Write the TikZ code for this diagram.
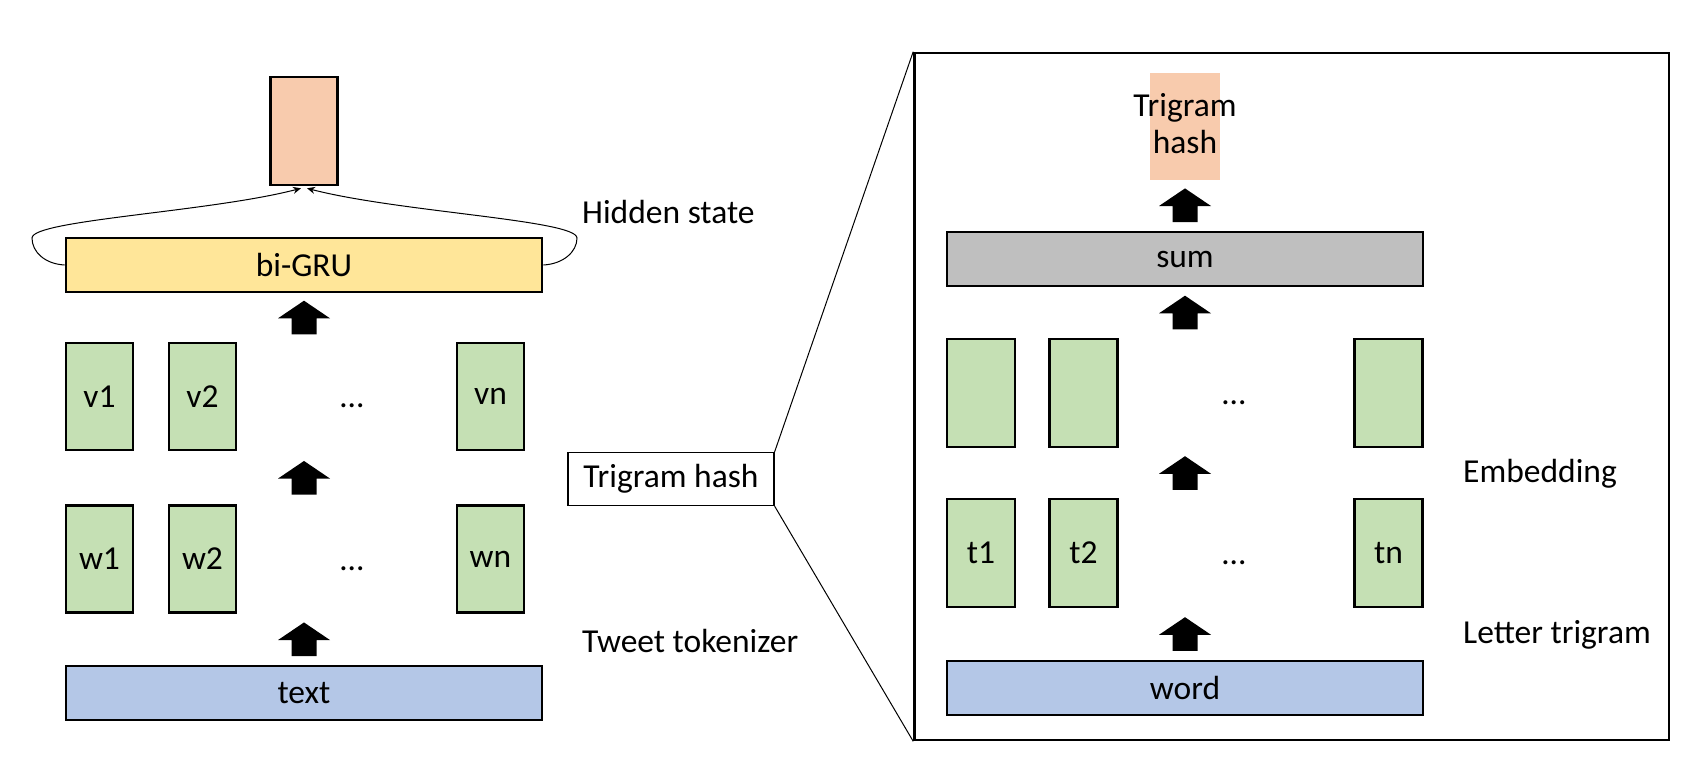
\documentclass[tikz,border=0pt]{standalone}
\usepackage{fontspec}
\setmainfont{Carlito}
\usetikzlibrary{calc,arrows.meta}
\definecolor{orng}{HTML}{F8CBAD}
\definecolor{yel}{HTML}{FFE699}
\definecolor{grn}{HTML}{C5E0B4}
\definecolor{blu}{HTML}{B4C7E7}
\definecolor{gry}{HTML}{BFBFBF}
\newcommand\blockarrow[1]{\fill[black,shift={(#1)}] (-12.5,16.8) -- (-12.5,0.8) -- (-26,0.8) -- (0,-16.8) -- (26,0.8) -- (12.5,0.8) -- (12.5,16.8) -- cycle;}
\begin{document}
\begin{tikzpicture}[x=1pt,y=-1pt,
  every node/.style={font=\fontsize{33.5}{37}\selectfont, inner sep=0pt},
  box/.style={draw=black, line width=2.6pt, minimum width=#1, minimum height=54},
  cell/.style={draw=black, line width=2.6pt, fill=grn, minimum width=67, minimum height=107},
  lbl/.style={anchor=west},
  thin/.style={line width=1pt}]
\useasboundingbox (0,0) rectangle (1697,769);
% ---------------- left column
\node[draw=black, line width=2.6pt, fill=orng, minimum width=67, minimum height=108] (out) at (304,131) {};
\node[box=476, fill=yel] (bigru) at (304,265) {bi-GRU};
\node[cell] (v1) at (99.5,396.5) {v1};
\node[cell] (v2) at (202.5,396.5) {v2};
\node[cell] (vn) at (490.5,396.5) {vn};
\node[anchor=base] (vdots) at (352,407) {…};
\node[cell] (w1) at (99.5,559) {w1};
\node[cell] (w2) at (202.5,559) {w2};
\node[cell] (wn) at (490.5,559) {wn};
\node[anchor=base] (wdots) at (352,570) {…};
\node[box=476, fill=blu] (text) at (304,693) {text};
\coordinate (la1) at ($(bigru.south)!0.5!(bigru.south |- v1.north)$);
\coordinate (la2) at ($(bigru.south |- v1.south)!0.5!(bigru.south |- w1.north)$);
\coordinate (la3) at ($(bigru.south |- w1.south)!0.5!(text.north)$);
\blockarrow{la1}
\blockarrow{la2}
\blockarrow{la3}
% hidden state loops
\draw[thin, -{Stealth[length=8pt,width=7pt]}] (bigru.west) .. controls (45,264) and (32,252) .. (32,238)
  .. controls (32,220) and (210,212) .. ([xshift=-3pt,yshift=-2pt]out.south);
\draw[thin, -{Stealth[length=8pt,width=7pt]}] (bigru.east) .. controls (563,264) and (577,252) .. (577,238)
  .. controls (577,220) and (398,212) .. ([xshift=3pt,yshift=-2pt]out.south);
\node[lbl] (hs) at (582,212) {Hidden state};
\node[lbl] (tt) at (582,641) {Tweet tokenizer};
% ---------------- trigram hash zoom
\node[draw=black, line width=1.2pt, minimum width=206, minimum height=53] (th) at (671,479) {Trigram hash};
\node[draw=black, line width=2.6pt, minimum width=754.5, minimum height=687] (big) at (1291.75,396.5) {};
\draw[thin] (th.north east) -- (big.north west);
\draw[thin] (th.south east) -- (big.south west);
% ---------------- right column
\node[fill=orng, minimum width=70, minimum height=107] (thout) at (1185,126) {};
\node[align=center] (thtext) at (1185,124) {Trigram\\hash};
\node[box=476, fill=gry] (sum) at (1185,259) {sum};
\node[cell, minimum width=68, minimum height=108] (e1) at (981,393) {};
\node[cell, minimum width=68, minimum height=108] (e2) at (1083.5,393) {};
\node[cell, minimum width=68, minimum height=108] (en) at (1388.5,393) {};
\node[anchor=base] (edots) at (1234,404) {…};
\node[cell, minimum width=68, minimum height=108] (t1) at (981,553) {t1};
\node[cell, minimum width=68, minimum height=108] (t2) at (1083.5,553) {t2};
\node[cell, minimum width=68, minimum height=108] (tn) at (1388.5,553) {tn};
\node[anchor=base] (tdots) at (1234,564) {…};
\node[box=476, fill=blu] (word) at (1185,688) {word};
\coordinate (ra1) at ($(thout.south)!0.5!(sum.north)$);
\coordinate (ra2) at ($(sum.south)!0.5!(sum.south |- e1.north)$);
\coordinate (ra3) at ($(sum.south |- e1.south)!0.5!(sum.south |- t1.north)$);
\coordinate (ra4) at ($(sum.south |- t1.south)!0.5!(word.north)$);
\blockarrow{ra1}
\blockarrow{ra2}
\blockarrow{ra3}
\blockarrow{ra4}
\node[lbl] (emb) at (1463,474) {Embedding};
\node[lbl] (lt) at (1463,635) {Letter trigram};
\end{tikzpicture}
\end{document}
